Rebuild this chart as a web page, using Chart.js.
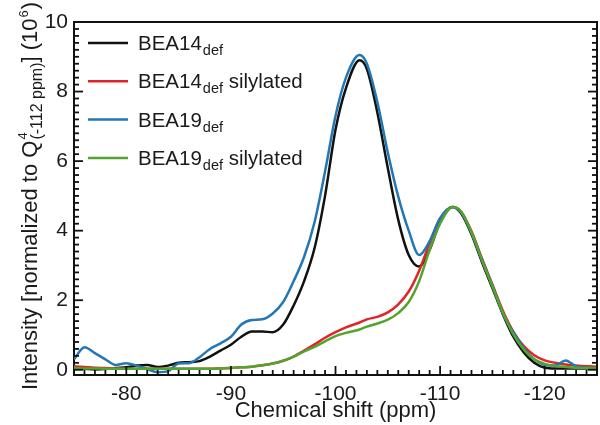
<!DOCTYPE html>
<html>
<head>
<meta charset="utf-8">
<script src="https://cdn.jsdelivr.net/npm/chart.js@4/dist/chart.umd.min.js"></script>
<style>
  html, body { margin: 0; padding: 0; background: #fff; }
  #chart { display: block; }
</style>
</head>
<body>
<canvas id="chart" width="600" height="425"></canvas>
<script>
const FONT = "'Liberation Sans', Arial, Helvetica, sans-serif";
const TEXT_COLOR = "#1a1a1a";

// chemical shift grid (ppm)
const shiftPpm = [
  -75, -76, -77, -78, -79, -80, -81, -82, -83, -84,
  -85, -86, -87, -88, -89, -90, -91, -92, -93, -94,
  -95, -96, -97, -98, -99, -100, -101, -102.3, -103, -104,
  -105, -106, -107, -108, -109, -110, -111.2, -112, -113, -114,
  -115, -116, -117, -118, -119, -120, -121, -122, -123, -124, -125,
];

const bea14Def = [
  0.05, 0.03, 0.01, 0.02, 0.05, 0.07, 0.12, 0.14, 0.08, 0.12,
  0.20, 0.22, 0.25, 0.38, 0.55, 0.72, 0.95, 1.10, 1.10, 1.08,
  1.30, 1.85, 2.55, 3.50, 5.00, 6.90, 8.10, 8.90, 8.65, 7.40,
  5.80, 4.31, 3.30, 2.97, 3.45, 4.25, 4.68, 4.50, 3.90, 3.10,
  2.35, 1.60, 0.95, 0.50, 0.20, 0.06, 0.04, 0.04, 0.04, 0.04, 0.04,
];

const bea14DefSilylated = [
  0.10, 0.08, 0.06, 0.05, 0.04, 0.03, 0.03, 0.03, 0.03, 0.03,
  0.03, 0.03, 0.03, 0.03, 0.04, 0.05, 0.07, 0.09, 0.13, 0.18,
  0.26, 0.38, 0.55, 0.73, 0.92, 1.08, 1.22, 1.36, 1.45, 1.52,
  1.65, 1.88, 2.25, 2.85, 3.65, 4.35, 4.68, 4.55, 3.98, 3.20,
  2.45, 1.70, 1.10, 0.68, 0.42, 0.27, 0.20, 0.15, 0.12, 0.10, 0.09,
];

const bea19Def = [
  0.30, 0.65, 0.48, 0.30, 0.14, 0.19, 0.12, 0.02, -0.07, -0.04,
  0.18, 0.19, 0.36, 0.60, 0.76, 0.95, 1.30, 1.43, 1.45, 1.62,
  1.95, 2.55, 3.25, 4.25, 5.70, 7.30, 8.40, 9.05, 8.80, 7.70,
  6.25, 4.98, 4.00, 3.30, 3.70, 4.35, 4.68, 4.52, 3.95, 3.18,
  2.42, 1.62, 1.08, 0.62, 0.30, 0.14, 0.12, 0.27, 0.10, 0.06, 0.05,
];

const bea19DefSilylated = [
  0.05, 0.04, 0.04, 0.03, 0.03, 0.03, 0.03, 0.03, 0.03, 0.03,
  0.03, 0.03, 0.03, 0.03, 0.04, 0.05, 0.07, 0.09, 0.13, 0.18,
  0.26, 0.38, 0.53, 0.66, 0.82, 0.97, 1.06, 1.16, 1.24, 1.33,
  1.44, 1.63, 1.95, 2.55, 3.45, 4.20, 4.68, 4.55, 3.95, 3.15,
  2.40, 1.65, 1.02, 0.58, 0.30, 0.17, 0.11, 0.08, 0.06, 0.05, 0.05,
];

const seriesNames = ["BEA14", "BEA14", "BEA19", "BEA19"];
const seriesSubscript = "def";
const seriesSuffix = ["", " silylated", "", " silylated"];
const seriesColors = ["#111111", "#e3232a", "#2277b4", "#52a52c"];
const seriesValues = [bea14Def, bea14DefSilylated, bea19Def, bea19DefSilylated];

const xTickValues = [-80, -90, -100, -110, -120];
const yTickValues = [0, 2, 4, 6, 8, 10];

function toPoints(values) {
  return shiftPpm.map((x, i) => ({ x, y: values[i] }));
}

function resetCtx(ctx) {
  ctx.setLineDash([]);
  ctx.globalAlpha = 1;
  ctx.globalCompositeOperation = "source-over";
  ctx.shadowBlur = 0;
  ctx.shadowColor = "rgba(0,0,0,0)";
}

// legend with subscripts
const subLegend = {
  id: "subLegend",
  afterDraw(chart) {
    const { ctx } = chart;
    ctx.save();
    resetCtx(ctx);
    ctx.textBaseline = "alphabetic";
    ctx.textAlign = "left";
    seriesNames.forEach((name, i) => {
      const baseY = 50 + i * 38.3;
      const lineY = baseY - 7;
      ctx.strokeStyle = seriesColors[i];
      ctx.lineWidth = 2.5;
      ctx.beginPath();
      ctx.moveTo(88, lineY);
      ctx.lineTo(128, lineY);
      ctx.stroke();

      ctx.fillStyle = TEXT_COLOR;
      let x = 138;
      ctx.font = `20.5px ${FONT}`;
      ctx.fillText(name, x, baseY);
      x += ctx.measureText(name).width + 1;
      ctx.font = `14.5px ${FONT}`;
      ctx.fillText(seriesSubscript, x, baseY + 5);
      x += ctx.measureText(seriesSubscript).width;
      if (seriesSuffix[i]) {
        ctx.font = `20.5px ${FONT}`;
        ctx.fillText(seriesSuffix[i], x, baseY);
      }
    });
    ctx.restore();
  },
};

// y axis title with super/subscripts
const yTitle = {
  id: "yTitle",
  afterDraw(chart) {
    const { ctx } = chart;
    ctx.save();
    resetCtx(ctx);
    ctx.translate(37, 390);
    ctx.rotate(-Math.PI / 2);
    ctx.fillStyle = TEXT_COLOR;
    ctx.textBaseline = "alphabetic";
    ctx.textAlign = "left";
    let x = 0;
    ctx.font = `22px ${FONT}`;
    const part1 = "Intensity [normalized to Q";
    ctx.fillText(part1, x, 0);
    x += ctx.measureText(part1).width + 1;
    ctx.font = `13px ${FONT}`;
    ctx.fillText("4", x, -10);
    const w4 = ctx.measureText("4").width;
    ctx.font = `16px ${FONT}`;
    ctx.fillText("(-112 ppm)", x, 5);
    x += Math.max(w4, ctx.measureText("(-112 ppm)").width);
    ctx.font = `22px ${FONT}`;
    ctx.fillText("] (10", x, 0);
    x += ctx.measureText("] (10").width + 1;
    ctx.font = `13px ${FONT}`;
    ctx.fillText("6", x, -9);
    x += ctx.measureText("6").width + 1;
    ctx.font = `22px ${FONT}`;
    ctx.fillText(")", x, 0);
    ctx.restore();
  },
};

// inward tick marks (filled rects) + top/right frame, drawn last
const frameTicks = {
  id: "frameTicks",
  afterDraw(chart) {
    const ctx = chart.ctx;
    const area = chart.chartArea;
    const xs = chart.scales.x;
    const ys = chart.scales.y;
    ctx.save();
    resetCtx(ctx);
    ctx.fillStyle = "#111111";
    for (let v = -125; v <= -75; v++) {
      const px = xs.getPixelForValue(v);
      const len = v % 10 === 0 ? 9 : 5;
      ctx.fillRect(px - 0.9, area.bottom - len, 1.8, len);
    }
    for (let i = 0; i <= 50; i++) {
      const py = ys.getPixelForValue(i * 0.2);
      const len = i % 10 === 0 ? 9 : 5;
      ctx.fillRect(area.left, py - 0.9, len, 1.8);
      ctx.fillRect(area.right - len, py - 0.9, len, 1.8);
    }
    ctx.fillRect(area.left - 1, area.top - 1, area.right - area.left + 2, 2);
    ctx.fillRect(area.right - 1, area.top - 1, 2, area.bottom - area.top + 2);
    ctx.restore();
  },
};

const datasets = seriesValues.map((values, i) => ({
  label: seriesNames[i] + seriesSubscript + seriesSuffix[i],
  data: toPoints(values),
  borderColor: seriesColors[i],
  borderWidth: 2.5,
  pointRadius: 0,
  fill: false,
  cubicInterpolationMode: "monotone",
  order: 3 - i,
}));

new Chart(document.getElementById("chart"), {
  type: "line",
  data: { datasets },
  options: {
    responsive: false,
    animation: false,
    layout: { padding: { left: 0, right: 3, top: 22, bottom: 0 } },
    plugins: {
      legend: { display: false },
      tooltip: { enabled: false },
    },
    scales: {
      x: {
        type: "linear",
        reverse: true,
        min: -125,
        max: -75,
        afterBuildTicks: (scale) => {
          scale.ticks = xTickValues.map((value) => ({ value }));
        },
        afterFit: (scale) => {
          scale.height = 50;
        },
        grid: { display: false, drawTicks: false },
        border: { display: true, color: "#111", width: 2 },
        ticks: {
          padding: 7,
          maxRotation: 0,
          color: TEXT_COLOR,
          font: { family: FONT, size: 21 },
        },
        title: {
          display: true,
          text: "Chemical shift (ppm)",
          color: TEXT_COLOR,
          font: { family: FONT, size: 22 },
          padding: { top: 0, bottom: 1 },
        },
      },
      y: {
        min: -0.15,
        max: 10,
        afterBuildTicks: (scale) => {
          scale.ticks = yTickValues.map((value) => ({ value }));
        },
        afterFit: (scale) => {
          scale.width = 74;
        },
        grid: { display: false, drawTicks: false },
        border: { display: true, color: "#111", width: 2 },
        ticks: {
          padding: 6,
          color: TEXT_COLOR,
          font: { family: FONT, size: 21 },
        },
      },
    },
  },
  plugins: [subLegend, yTitle, frameTicks],
});
</script>
</body>
</html>
